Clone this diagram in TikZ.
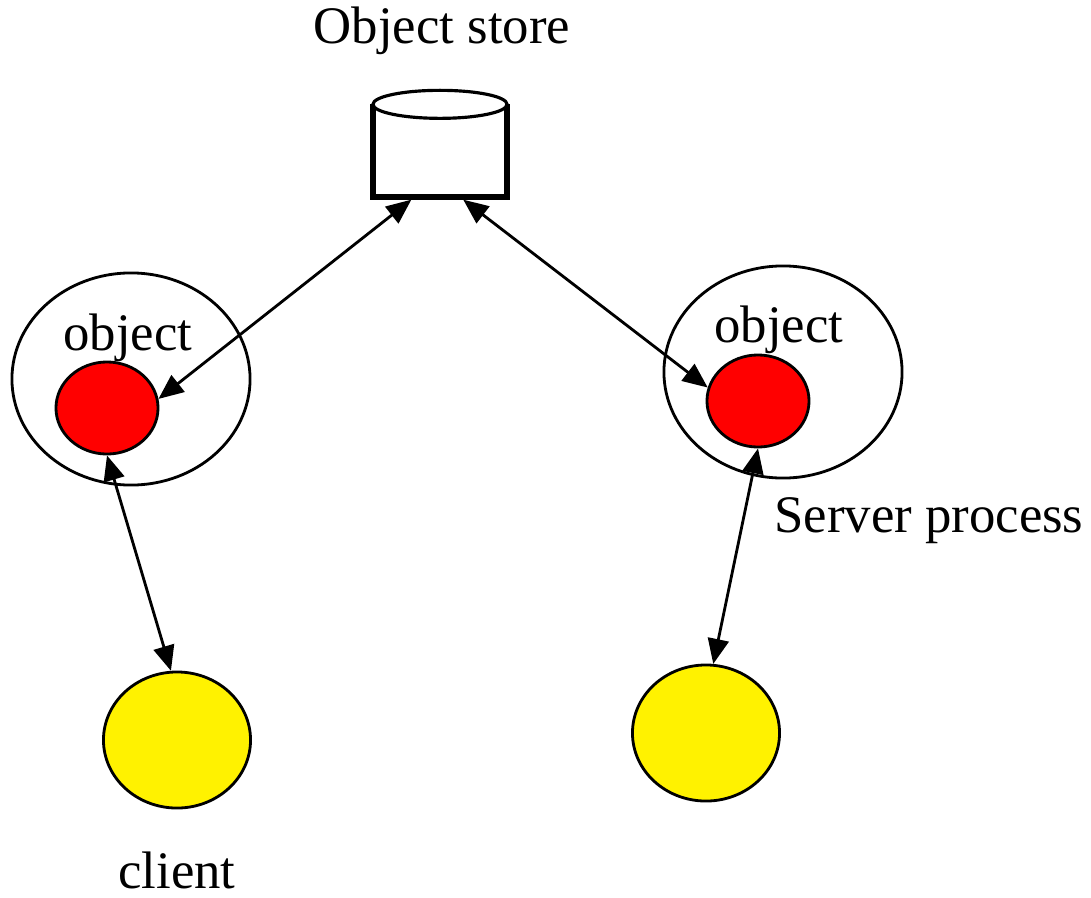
\documentclass[tikz,border=0pt]{standalone}
\usepackage{fontspec}
\setmainfont{Liberation Serif}
\usetikzlibrary{arrows.meta,positioning,shapes.geometric}

\begin{document}
\begin{tikzpicture}[x=0.01cm,y=-0.01cm,>={Triangle[length=0.25cm,width=0.21cm]},line width=0.8pt,
  lbl/.style={font=\fontsize{15}{18}\selectfont,inner sep=0pt},
  proc/.style={ellipse,draw,line width=0.8pt,minimum width=2.38cm,minimum height=2.12cm,inner sep=0pt},
  obj/.style={ellipse,draw,fill=red,minimum width=1.02cm,minimum height=0.92cm,inner sep=0pt},
  cli/.style={ellipse,draw,fill=yellow,minimum width=1.47cm,minimum height=1.36cm,inner sep=0pt}]
  \useasboundingbox (0,0) rectangle (1091,897);

  % object store
  \node[draw,line width=1.5pt,minimum width=1.34cm,minimum height=0.9cm,inner sep=0pt] (store) at (440,152) {};
  \draw[fill=white,line width=0.9pt] (store.north) ellipse [x radius=0.67cm,y radius=0.14cm];
  \node[lbl,anchor=base] (storelbl) at (442,43) {Object store};

  % server processes
  \node[proc] (procL) at (131,379) {};
  \node[proc] (procR) at (783,372) {};
  \node[obj] (objL) at (107,408) {};
  \node[obj] (objR) at (758,401) {};
  \node[lbl,anchor=base] (objlblL) at (128,350) {object};
  \node[lbl,anchor=base] (objlblR) at (779,342) {object};
  \node[lbl,anchor=base west] (srvlbl) at (773,532) {Server process};

  % clients
  \node[cli] (cliL) at (177,740) {};
  \node[cli] (cliR) at (706,733) {};
  \node[lbl,anchor=base] (clilbl) at (177,888) {client};

  \path[<->]
    (store.-121) edge (objL.10)
    (store.-64) edge (objR.165)
    (objL.south) edge (cliL.95)
    (objR.south) edge (cliR.84);
\end{tikzpicture}
\end{document}
